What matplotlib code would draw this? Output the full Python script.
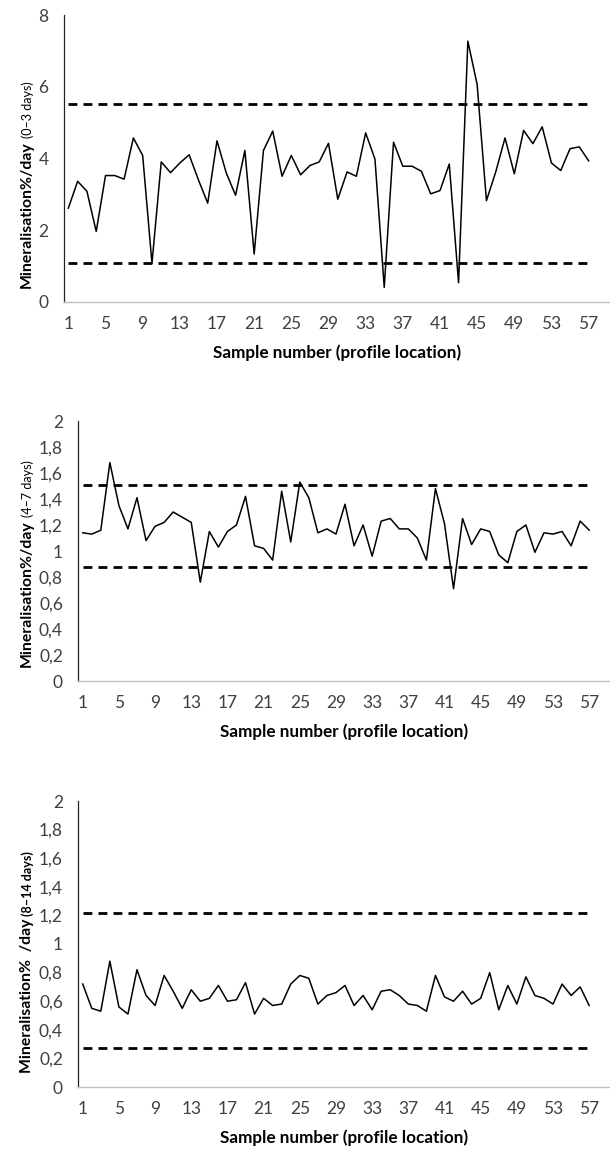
import numpy as np
import matplotlib
matplotlib.use("Agg")
from matplotlib import pyplot as plt
from matplotlib.ticker import FuncFormatter, MultipleLocator

plt.rcParams['font.family'] = ['Lato', 'DejaVu Sans']

# sample positions along the profile
sample_numbers = list(range(1, 58))
xtick_labels = list(range(1, 58, 4))

# daily mineralisation rate, three incubation periods
days_0_3 = [2.61, 3.36, 3.08, 1.96, 3.52, 3.52, 3.42, 4.57, 4.08, 1.07,
            3.90, 3.60, 3.87, 4.10, 3.40, 2.75, 4.49, 3.59, 2.97, 4.22,
            1.33, 4.22, 4.76, 3.50, 4.08, 3.54, 3.80, 3.90, 4.42, 2.86,
            3.62, 3.50, 4.71, 3.98, 0.40, 4.45, 3.78, 3.78, 3.64, 3.01,
            3.10, 3.84, 0.53, 7.27, 6.06, 2.82, 3.62, 4.57, 3.57, 4.78,
            4.41, 4.88, 3.87, 3.66, 4.27, 4.32, 3.93]
days_4_7 = [1.14, 1.13, 1.16, 1.68, 1.35, 1.17, 1.41, 1.08, 1.19, 1.22,
            1.30, 1.26, 1.22, 0.76, 1.15, 1.03, 1.15, 1.20, 1.42, 1.04,
            1.02, 0.93, 1.46, 1.07, 1.53, 1.41, 1.14, 1.17, 1.13, 1.36,
            1.04, 1.20, 0.96, 1.23, 1.25, 1.17, 1.17, 1.10, 0.93, 1.48,
            1.21, 0.71, 1.25, 1.05, 1.17, 1.15, 0.97, 0.91, 1.15, 1.20,
            0.99, 1.14, 1.13, 1.15, 1.04, 1.23, 1.16]
days_8_14 = [0.72, 0.55, 0.53, 0.88, 0.56, 0.51, 0.82, 0.64, 0.57, 0.78,
             0.67, 0.55, 0.68, 0.60, 0.62, 0.71, 0.60, 0.61, 0.73, 0.51,
             0.62, 0.57, 0.58, 0.72, 0.78, 0.76, 0.58, 0.64, 0.66, 0.71,
             0.57, 0.64, 0.54, 0.67, 0.68, 0.64, 0.58, 0.57, 0.53, 0.78,
             0.63, 0.60, 0.67, 0.58, 0.62, 0.80, 0.54, 0.71, 0.58, 0.77,
             0.64, 0.62, 0.58, 0.72, 0.64, 0.70, 0.57]

# lower / upper control limits
limits_0_3 = [1.07, 5.52]
limits_4_7 = [0.88, 1.505]
limits_8_14 = [0.276, 1.216]

label_main = ['Mineralisation%/day', 'Mineralisation%/day', 'Mineralisation%  /day']
label_period = ['(0–3 days)', '(4–7 days)', '(8–14 days)']
xlabel = 'Sample number (profile location)'

TICK_COLOR = '#404040'
W, H = 610, 1149

fig = plt.figure(figsize=(W / 100, H / 100), dpi=100)

# axes boxes in pixels: left, top, bottom (right edge runs to the figure border)
boxes = [(63.7, 15, 301.7), (78.2, 421, 681), (78.2, 801, 1087)]
series = [days_0_3, days_4_7, days_8_14]
limits = [limits_0_3, limits_4_7, limits_8_14]
ylims = [(0, 8, 2), (0, 2, 0.2), (0, 2, 0.2)]

comma = FuncFormatter(lambda v, pos: f'{v:g}'.replace('.', ','))

ylabel_pairs = []
for k in range(3):
    left, top, bottom = boxes[k]
    ax = fig.add_axes([left / W, 1 - bottom / H, 1 - left / W, (bottom - top) / H])

    ax.plot(sample_numbers, series[k], color='black', lw=1.1, zorder=3)
    for lim in limits[k]:
        ax.plot([sample_numbers[0], sample_numbers[-1]], [lim, lim], color='black',
                lw=2.0, linestyle=(0, (3.2, 2.2)), zorder=2)

    ax.set_xlim(0.5, 59.3)
    lo, hi, step = ylims[k]
    ax.set_ylim(lo, hi)
    ax.yaxis.set_major_locator(MultipleLocator(step))
    ax.yaxis.set_major_formatter(comma)
    ax.set_xticks(xtick_labels)

    for side in ['top', 'right']:
        ax.spines[side].set_visible(False)
    ax.spines['left'].set_color('#222222')
    ax.spines['left'].set_linewidth(0.9)
    ax.spines['bottom'].set_color('#bfbfbf')
    ax.spines['bottom'].set_linewidth(1.0)

    ax.tick_params(axis='both', length=0, labelsize=12.5, labelcolor=TICK_COLOR)
    ax.tick_params(axis='x', pad=10)
    ax.tick_params(axis='y', pad=11)

    ax.set_xlabel(xlabel, fontsize=12.3, fontweight='bold', color='black', labelpad=9)

    # two-part rotated y label: bold quantity followed by a smaller period note
    main = fig.text(27 / W, 1 - (bottom - 14) / H, label_main[k], rotation=90,
                    ha='center', va='bottom', fontsize=11.3, fontweight='bold')
    note = fig.text(0, 0, label_period[k], rotation=90, fontsize=9,
                    fontweight='bold' if k == 2 else 'normal', ha='right', va='bottom')
    ylabel_pairs.append((main, note))

# put each period note just above the bold part of its y label
fig.canvas.draw()
renderer = fig.canvas.get_renderer()
for main, note in ylabel_pairs:
    bb = main.get_window_extent(renderer)
    note.set_position(fig.transFigure.inverted().transform((bb.x1, bb.y1 + 3)))

fig.savefig('out.png', dpi=100)
